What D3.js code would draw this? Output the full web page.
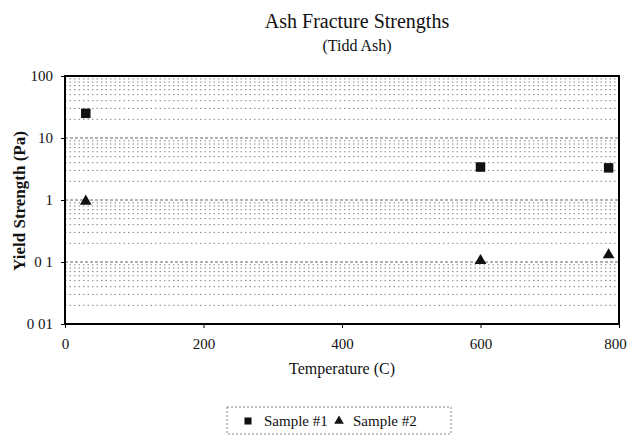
<!DOCTYPE html>
<html><head><meta charset="utf-8">
<script src="https://cdn.jsdelivr.net/npm/d3@7"></script>
<style>body{margin:0;background:#fff}svg{display:block}text{font-family:"Liberation Serif","Times New Roman",serif;fill:#111}</style>
</head><body><svg id="c" width="628" height="436"></svg>
<script>
const sample1X = [30, 600, 785];
const sample1Y = [25, 3.4, 3.3];
const sample2X = [30, 600, 785];
const sample2Y = [0.95, 0.105, 0.13];
const xTicks = [0, 200, 400, 600, 800];
const yTicks = [0.01, 0.1, 1, 10, 100];
const yTickLabels = ["0 01", "0 1", "1", "10", "100"];
const seriesNames = ["Sample #1", "Sample #2"];

const svg = d3.select("#c");
const L = 65, R = 619, T = 76, B = 324;
const x = d3.scaleLinear().domain([0, 800]).range([L, R]);
const y = d3.scaleLog().domain([0.01, 100]).range([B, T]);

// minor grid
const minor = [];
for (let d = 0.01; d < 100; d *= 10) for (let k = 1; k <= 9; k++) minor.push(+(d * k).toPrecision(3));
svg.append("g").selectAll("line").data(minor.filter(v => v > 0.01)).join("line")
  .attr("x1", L).attr("x2", R).attr("y1", d => y(d)).attr("y2", d => y(d))
  .attr("stroke", "#666").attr("stroke-width", d => yTicks.includes(d) ? 1.2 : 0.8)
  .attr("stroke-dasharray", d => yTicks.includes(d) ? "3,2" : "1.5,3");

// frame
svg.append("rect").attr("x", L).attr("y", T).attr("width", R - L).attr("height", B - T)
  .attr("fill", "none").attr("stroke", "#000").attr("stroke-width", 2);

// axes
const yAxis = d3.axisLeft(y).tickValues(yTicks).tickFormat((d, i) => yTickLabels[i]).tickSize(4).tickPadding(8);
const gy = svg.append("g").attr("transform", `translate(${L},0)`).call(yAxis);
gy.select(".domain").remove();
gy.selectAll("text").style("font-size", "15px");
const xAxis = d3.axisBottom(x).tickValues(xTicks).tickSize(4).tickPadding(10).tickFormat(d3.format("d"));
const gx = svg.append("g").attr("transform", `translate(0,${B})`).call(xAxis);
gx.select(".domain").remove();
gx.selectAll("text").style("font-size", "15px");
gx.selectAll(".tick:last-of-type text").attr("dx", "-4");

// markers
const sq = d3.symbol().type(d3.symbolSquare).size(90);
const tri = d3.symbol().type(d3.symbolTriangle).size(60);
svg.append("g").selectAll("path").data(sample1X.map((v, i) => [v, sample1Y[i]])).join("path")
  .attr("d", sq).attr("transform", d => `translate(${x(d[0])},${y(d[1])})`).attr("fill", "#111");
svg.append("g").selectAll("path").data(sample2X.map((v, i) => [v, sample2Y[i]])).join("path")
  .attr("d", tri).attr("transform", d => `translate(${x(d[0])},${y(d[1])})`).attr("fill", "#111");

// titles
svg.append("text").attr("x", 357).attr("y", 28).attr("text-anchor", "middle").style("font-size", "20px").text("Ash Fracture Strengths");
svg.append("text").attr("x", 357).attr("y", 51).attr("text-anchor", "middle").style("font-size", "16px").text("(Tidd Ash)");
svg.append("text").attr("x", 342).attr("y", 374).attr("text-anchor", "middle").style("font-size", "16px").text("Temperature (C)");
svg.append("text").attr("transform", "translate(25,201) rotate(-90)").attr("text-anchor", "middle").style("font-size", "17px").style("font-weight", "bold").text("Yield Strength (Pa)");

// legend
const lg = svg.append("g");
lg.append("rect").attr("x", 227).attr("y", 407).attr("width", 224).attr("height", 27)
  .attr("fill", "none").attr("stroke", "#666").attr("stroke-width", 0.8).attr("stroke-dasharray", "2,2");
lg.append("path").attr("d", d3.symbol().type(d3.symbolSquare).size(50)()).attr("transform", "translate(248,421)").attr("fill", "#111");
lg.append("text").attr("x", 264).attr("y", 426).style("font-size", "15px").text(seriesNames[0]);
lg.append("path").attr("d", d3.symbol().type(d3.symbolTriangle).size(40)()).attr("transform", "translate(339,421)").attr("fill", "#111");
lg.append("text").attr("x", 353).attr("y", 426).style("font-size", "15px").text(seriesNames[1]);
</script></body></html>
